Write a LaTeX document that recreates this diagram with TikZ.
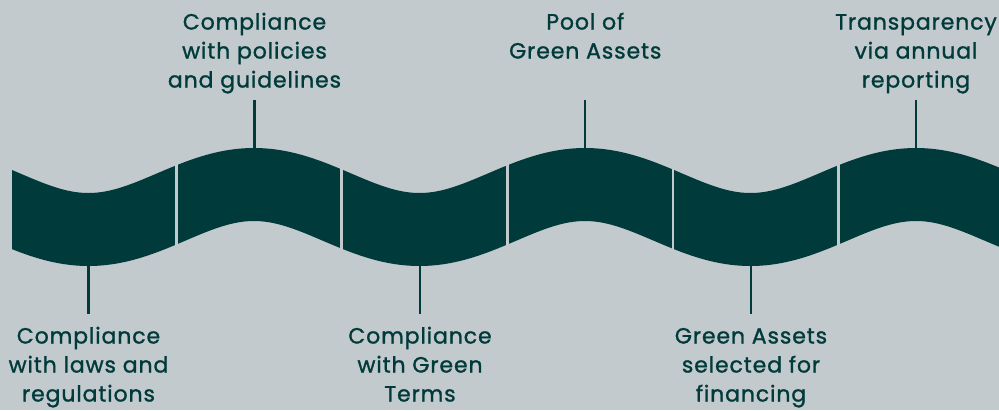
\documentclass[tikz,border=0pt]{standalone}
\usepackage{fontspec}
\setmainfont{Poppins}[FakeBold=1.2,LetterSpace=4]
\definecolor{bgc}{RGB}{195,202,205}
\definecolor{ribbon}{RGB}{0,58,59}
\begin{document}
\begin{tikzpicture}[x=1pt,y=-1pt,
  declare function={
    ph(\x)=(\x-88.5)*1.08761;
    cy(\x)=207+22.5*cos(ph(\x));
    sl(\x)=-0.4271*sin(ph(\x));
    nn(\x)=sqrt(1+sl(\x)*sl(\x));
  },
  lbl/.style={text=ribbon, align=center, inner sep=0pt, anchor=base,
    font=\fontsize{22}{29}\selectfont},
  leader/.style={draw=ribbon, line width=2.2pt}]
  % canvas
  \fill[bgc] (0,0) rectangle (999,410);
  \useasboundingbox (0,0) rectangle (999,410);
  % wavy ribbon of constant thickness
  \begin{scope}
    \clip (12,0) rectangle (999,410);
    \fill[ribbon]
      plot[domain=-40:1040, samples=320, smooth]
        ({\x+sl(\x)*36.5/nn(\x)},{cy(\x)-36.5/nn(\x)})
      -- plot[domain=1040:-40, samples=320, smooth]
        ({\x-sl(\x)*36.5/nn(\x)},{cy(\x)+36.5/nn(\x)})
      -- cycle;
  \end{scope}
  % cuts between the six segments
  \foreach \g in {176.5,341.8,507.3,673,838.3}
    \fill[bgc] (\g-1.4,130) rectangle (\g+1.4,290);
  % labels above the crests (anchored on their last baseline)
  \node[lbl] (t1) at (254.5,87.5) {Compliance\\with policies\\and guidelines};
  \node[lbl] (t2) at (585.3,58.5) {Pool of\\Green Assets};
  \node[lbl] (t3) at (916,87.5) {Transparency\\via annual\\reporting};
  % labels below the troughs
  \node[lbl] (b1) at (88.5,401.5) {Compliance\\with laws and\\regulations};
  \node[lbl] (b2) at (420,401.5) {Compliance\\with Green\\Terms};
  \node[lbl] (b3) at (751,401.5) {Green Assets\\selected for\\financing};
  % leader lines
  \foreach \n/\xx in {1/254.5,2/585.3,3/916}{
    \coordinate (ts\n) at (\xx,100);
    \coordinate (te\n) at (\xx,150);
    \draw[leader] (ts\n) -- (te\n);
  }
  \foreach \n/\xx in {1/88.5,2/420,3/751}{
    \coordinate (bs\n) at (\xx,264);
    \coordinate (be\n) at (\xx,314);
    \draw[leader] (bs\n) -- (be\n);
  }
\end{tikzpicture}
\end{document}
